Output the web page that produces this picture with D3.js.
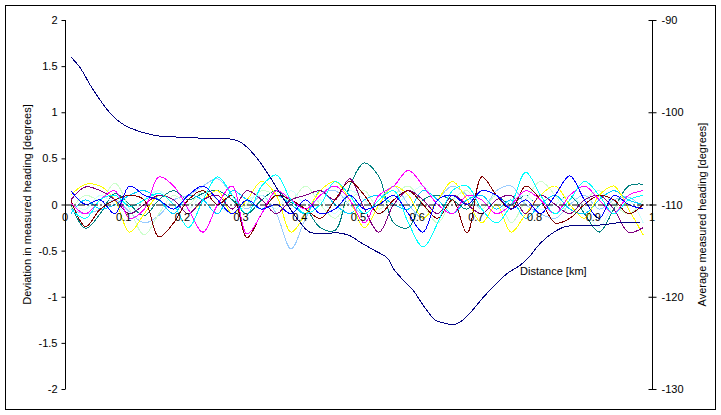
<!DOCTYPE html>
<html><head><meta charset="utf-8">
<script src="https://cdn.jsdelivr.net/npm/d3@7"></script>
<style>
html,body{margin:0;padding:0;background:#fff;}
svg{display:block;font-family:"Liberation Sans",Arial,sans-serif;}
</style></head>
<body>
<svg id="c" width="721" height="415"></svg>
<script>
// Distance positions (km) for deviation samples
const distances = [0.010,0.035,0.060,0.085,0.110,0.135,0.160,0.185,0.210,0.235,0.260,0.285,0.310,0.335,0.360,0.385,0.410,0.435,0.460,0.485,0.510,0.535,0.560,0.585,0.610,0.635,0.660,0.685,0.710,0.735,0.760,0.785,0.810,0.835,0.860,0.885,0.910,0.935,0.960,0.985];

// Deviation series (degrees)
const devTeal    = [0.0,-0.26,-0.1,0.12,0.0,-0.12,0.05,0.15,0.05,0.12,0.15,0.05,-0.1,0.05,0.15,0.02,-0.05,-0.25,-0.28,0.2,0.45,0.3,-0.2,-0.25,0.05,0.1,0.05,-0.05,0.15,0.1,0.0,0.1,-0.05,0.0,0.1,-0.1,-0.3,-0.05,0.2,0.22];
const devLtBlue  = [-0.05,-0.1,-0.05,0.05,-0.08,-0.2,-0.12,0.05,0.1,0.2,0.28,0.1,-0.05,0.1,-0.1,-0.48,-0.15,0.1,0.15,0.0,-0.1,0.05,0.2,0.0,-0.15,0.05,0.2,0.1,-0.05,0.15,0.2,0.0,-0.1,-0.15,0.0,0.1,-0.05,0.05,0.08,-0.05];
const devCyan    = [-0.05,-0.15,0.05,0.1,-0.02,0.05,0.12,0.0,-0.25,0.05,0.3,0.1,-0.1,0.2,0.32,0.05,-0.1,0.0,0.25,0.1,-0.1,0.05,0.15,-0.2,-0.46,-0.2,0.15,0.2,-0.05,-0.2,0.0,0.35,0.1,-0.1,0.05,0.25,0.1,-0.1,0.05,0.1];
const devMagenta = [0.02,-0.1,0.05,0.15,-0.15,-0.05,0.3,0.2,-0.05,-0.3,0.0,0.2,-0.32,-0.1,0.15,0.05,-0.05,0.1,0.2,0.05,-0.2,0.1,0.2,0.37,0.2,0.0,-0.1,0.1,0.05,-0.1,0.0,0.15,0.05,-0.1,0.1,0.2,0.05,-0.1,0.1,0.15];
const devMaroon  = [0.05,-0.24,-0.05,0.05,0.1,0.05,-0.35,-0.2,0.05,0.15,0.0,0.1,-0.36,-0.1,0.1,0.05,-0.05,-0.15,0.05,0.25,0.1,-0.1,0.05,0.15,0.0,-0.15,0.05,-0.31,0.3,0.1,-0.05,0.2,0.05,-0.2,-0.15,0.0,0.1,0.05,-0.1,0.0];
const devYellow  = [0.1,0.22,0.2,0.05,-0.3,-0.1,0.1,0.05,-0.1,0.05,0.15,-0.1,0.05,0.25,0.1,-0.3,-0.1,0.15,0.25,0.05,-0.25,0.0,0.2,0.1,-0.15,0.05,0.25,0.05,-0.2,0.0,-0.3,-0.1,0.1,0.2,0.0,-0.15,0.1,0.2,-0.05,-0.33];
const devBlue    = [0.15,0.0,0.05,-0.1,0.2,0.1,0.05,-0.05,0.1,0.2,0.05,-0.1,0.05,-0.05,0.0,-0.1,0.05,-0.1,-0.05,0.1,-0.05,0.0,0.1,-0.1,-0.3,0.05,0.1,0.0,0.15,0.1,-0.05,0.05,-0.1,0.1,0.31,0.05,-0.15,0.1,0.0,-0.05];
const devPurple  = [0.05,0.19,0.15,0.05,-0.1,0.0,0.1,0.05,-0.1,0.05,0.1,-0.05,0.15,0.05,-0.1,0.05,0.1,0.15,0.05,0.28,-0.05,-0.3,0.0,0.15,0.05,-0.1,0.1,0.0,-0.1,0.05,0.1,-0.1,0.1,0.0,-0.1,0.05,0.1,-0.05,-0.3,-0.25];
const devLtGreen = [-0.05,0.1,0.05,0.23,-0.05,-0.33,-0.1,0.1,0.0,0.15,0.05,-0.1,0.0,0.15,0.1,0.05,0.2,0.0,-0.15,0.05,0.15,-0.05,0.1,0.2,0.0,-0.2,0.05,0.15,-0.05,0.1,-0.2,0.05,0.25,0.1,-0.1,0.05,0.15,0.0,-0.1,0.05];
const devSky     = [-0.1,0.05,-0.05,0.0,0.1,0.15,0.05,-0.1,0.1,0.05,-0.1,0.15,0.05,-0.05,0.1,0.0,-0.1,0.15,0.0,-0.1,0.05,0.1,0.0,-0.05,0.15,0.05,-0.1,0.05,0.1,-0.05,0.05,-0.15,0.0,0.1,-0.05,-0.1,0.05,0.15,0.05,0.0];
const devPale    = [0.0,-0.05,0.1,0.0,-0.1,0.05,0.15,0.0,-0.05,0.1,0.0,-0.1,0.05,0.1,-0.05,0.15,0.0,0.05,-0.1,0.15,0.05,-0.1,0.0,0.1,0.2,0.0,-0.1,0.1,0.05,-0.1,0.05,0.1,-0.05,0.0,0.1,-0.05,-0.25,0.0,0.05,-0.2];

// Average heading (degrees, right axis)
const avgDist    = [0.010,0.026,0.043,0.060,0.077,0.094,0.111,0.128,0.145,0.162,0.196,0.230,0.281,0.298,0.315,0.332,0.349,0.366,0.383,0.400,0.417,0.446,0.468,0.486,0.503,0.525,0.549,0.559,0.576,0.593,0.610,0.630,0.642,0.664,0.676,0.695,0.712,0.736,0.755,0.775,0.792,0.804,0.826,0.852,0.877,0.917,0.940,0.980];
const avgHeading = [-94.0,-95.2,-97.05,-98.7,-100.1,-101.1,-101.7,-102.1,-102.4,-102.6,-102.7,-102.8,-102.9,-103.2,-104.1,-105.4,-107.0,-108.75,-110.4,-111.9,-113.0,-113.1,-113.1,-113.4,-114.1,-114.9,-115.8,-116.9,-118.2,-119.3,-120.9,-122.5,-122.8,-123.0,-122.6,-121.4,-120.1,-118.5,-117.4,-116.6,-115.6,-114.6,-113.3,-112.4,-112.3,-112.2,-112.0,-112.0];

const xTicks = [0,0.1,0.2,0.3,0.4,0.5,0.6,0.7,0.8,0.9,1];
const yLeftTicks = [2,1.5,1,0.5,0,-0.5,-1,-1.5,-2];
const yRightTicks = [-90,-100,-110,-120,-130];

const series = [
  {name:"teal", color:"#008080", values:devTeal},
  {name:"ltblue", color:"#99CCFF", values:devLtBlue},
  {name:"ltgreen", color:"#CCFFCC", values:devLtGreen},
  {name:"pale", color:"#CCFFFF", values:devPale},
  {name:"sky", color:"#00CCFF", values:devSky},
  {name:"yellow", color:"#FFFF00", values:devYellow},
  {name:"purple", color:"#800080", values:devPurple},
  {name:"maroon", color:"#800000", values:devMaroon},
  {name:"magenta", color:"#FF00FF", values:devMagenta},
  {name:"cyan", color:"#00FFFF", values:devCyan},
  {name:"blue", color:"#0000FF", values:devBlue}
];

const fmt = d => String(d);

const svg = d3.select("#c");
const L = 65, R = 652, T = 20, B = 389;
const x = d3.scaleLinear().domain([0,1]).range([L,R]);
const yL = d3.scaleLinear().domain([-2,2]).range([B,T]);
const yR = d3.scaleLinear().domain([-130,-90]).range([B,T]);

svg.append("rect").attr("x",5.5).attr("y",5.5).attr("width",710).attr("height",404)
  .attr("fill","#fff").attr("stroke","#000").attr("stroke-width",1);

const line = d3.line().x(d=>x(d[0])).y(d=>yL(d[1])).curve(d3.curveCatmullRom.alpha(0.5));
series.forEach(s=>{
  svg.append("path").datum(distances.map((dd,i)=>[dd,s.values[i]]))
    .attr("d",line).attr("fill","none").attr("stroke",s.color).attr("stroke-width",1)
    .attr("shape-rendering","crispEdges");
});

// zero (x) axis line
svg.append("line").attr("x1",L).attr("x2",R).attr("y1",yL(0)+0.5).attr("y2",yL(0)+0.5)
  .attr("stroke","#000").attr("stroke-width",1).attr("stroke-dasharray","7,2,2,2");
// x tick labels
svg.append("g").selectAll("text").data(xTicks).join("text")
  .attr("x",d=>x(d)).attr("y",yL(0)+16).attr("text-anchor","middle")
  .attr("font-size",11).text(fmt);

// left axis
const gL = svg.append("g").attr("transform",`translate(${L+0.5},0)`)
  .call(d3.axisLeft(yL).tickValues(yLeftTicks).tickSize(4).tickPadding(4).tickFormat(fmt));
gL.selectAll("text").attr("font-size",11).attr("font-family","Liberation Sans, Arial, sans-serif").attr("fill","#000");
gL.select(".domain").attr("d",`M0,${T}V${B}`);

// right axis
const gR = svg.append("g").attr("transform",`translate(${R+0.5},0)`)
  .call(d3.axisRight(yR).tickValues(yRightTicks).tickSize(4).tickPadding(5).tickFormat(fmt));
gR.selectAll("text").attr("font-size",11).attr("font-family","Liberation Sans, Arial, sans-serif").attr("fill","#000");
gR.selectAll(".tick line").attr("x1",-4);
gR.select(".domain").attr("d",`M0,${T}V${B}`);

// average heading line
const avgLine = d3.line().x(d=>x(d[0])).y(d=>yR(d[1])).curve(d3.curveCatmullRom.alpha(0.5));
svg.append("path").datum(avgDist.map((dd,i)=>[dd,avgHeading[i]]))
  .attr("d",avgLine).attr("fill","none").attr("stroke","#000080").attr("stroke-width",1)
  .attr("shape-rendering","crispEdges");

// titles
svg.append("text").attr("transform",`translate(31,${(T+B)/2}) rotate(-90)`)
  .attr("text-anchor","middle").attr("font-size",11).text("Deviation in measured heading [degrees]");
svg.append("text").attr("transform",`translate(706,${(T+B)/2+10}) rotate(-90)`)
  .attr("text-anchor","middle").attr("font-size",11).text("Average measured heading [degrees]");
svg.append("text").attr("x",520).attr("y",275).attr("font-size",11).text("Distance [km]");
</script>
</body></html>
